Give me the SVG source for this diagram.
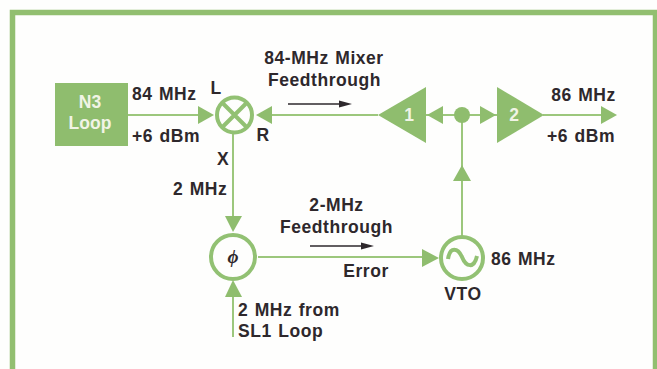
<svg xmlns="http://www.w3.org/2000/svg" width="657" height="369" viewBox="0 0 657 369">
<style>
.t{font-family:"Liberation Sans",Arial,sans-serif;font-weight:700;font-size:17.5px;fill:#2e282c;word-spacing:1px;letter-spacing:.55px}
.w{font-family:"Liberation Sans",Arial,sans-serif;font-weight:700;font-size:17.5px;fill:#f1f4e6}
.l{fill:none;stroke:#9cc77c;stroke-width:2}
.r{fill:none;stroke:#92c173;stroke-width:4}
.f{fill:#8fbd6e}
.k{fill:none;stroke:#2e282c;stroke-width:1.4}
.kf{fill:#2e282c}
</style>
<rect width="657" height="369" fill="#fefefd"/>
<path id="frame" d="M12.500 369V12.500H655.500V369" fill="none" stroke="#92bf70" stroke-width="5.500"/>
<g id="connectors">
<path class="l" d="M128 115H200"/><path class="f" d="M198 106L214 115L198 124Z"/>
<path class="l" d="M378 115H268"/><path class="f" d="M272 106L256 115L272 124Z"/>
<path class="l" d="M425 115H497"/><path class="f" d="M443 106L427 115L443 124Z"/><path class="f" d="M480 106L496 115L480 124Z"/>
<path class="l" d="M543 115H605"/><path class="f" d="M601 106L617 115L601 124Z"/>
<path class="l" d="M233 134V218"/><path class="f" d="M225 216H242L233 232Z"/>
<path class="l" d="M233 337V295"/><path class="f" d="M225 297H242L233 280Z"/>
<path class="l" d="M258 257H425"/><path class="f" d="M422 249L439 258L422 267Z"/>
<path class="l" d="M462 236V122"/><path class="f" d="M453 181H471L462 165Z"/>
<path class="k" d="M288 104H342"/><path class="kf" d="M339 100.500V107.500L352 104Z"/>
<path class="k" d="M310 246H364"/><path class="kf" d="M361 242.500V249.500L374 246Z"/>
</g>
<g id="n3"><rect class="f" x="55" y="83" width="73" height="63"/><text class="w" x="90" y="108" text-anchor="middle">N3</text><text class="w" x="90" y="129" text-anchor="middle">Loop</text></g>
<g id="mixer"><circle cx="234.500" cy="115" r="17.500" fill="#fefefd" class="r"/><path class="r" d="M222.500 103L246.500 127M246.500 103L222.500 127"/></g>
<g id="amp1"><path class="f" d="M426 87V143L378 115Z"/><text class="w" x="409" y="121" text-anchor="middle">1</text></g>
<g id="junction"><circle class="f" cx="462" cy="115" r="8"/></g>
<g id="amp2"><path class="f" d="M497 87V143L544 115Z"/><text class="w" x="514" y="121" text-anchor="middle">2</text></g>
<g id="phase"><circle cx="233" cy="257" r="22" fill="#fefefd" class="r"/><text x="233" y="263" text-anchor="middle" style="font-family:'Liberation Serif',serif;font-style:italic;font-weight:700;font-size:19px;fill:#2e282c">ϕ</text></g>
<g id="vto"><circle cx="462" cy="258" r="21" fill="#fefefd" class="r"/><path class="r" d="M448 259C450 246 458 248 462 257C466 267 474 269 477 256"/><text class="t" x="463" y="300" text-anchor="middle">VTO</text></g>
<g id="labels">
<text class="t" x="132" y="100">84 MHz</text>
<text class="t" x="132" y="141.500">+6 dBm</text>
<text class="t" x="216" y="94" text-anchor="middle">L</text>
<text class="t" x="263" y="141" text-anchor="middle">R</text>
<text class="t" x="223" y="165" text-anchor="middle">X</text>
<text class="t" x="173" y="195">2 MHz</text>
<text class="t" x="324" y="64" text-anchor="middle">84-MHz Mixer</text>
<text class="t" x="324.500" y="86" text-anchor="middle">Feedthrough</text>
<text class="t" x="583.500" y="100.500" text-anchor="middle">86 MHz</text>
<text class="t" x="581" y="141.500" text-anchor="middle">+6 dBm</text>
<text class="t" x="336.500" y="211" text-anchor="middle">2-MHz</text>
<text class="t" x="336.500" y="233" text-anchor="middle">Feedthrough</text>
<text class="t" x="366" y="277" text-anchor="middle">Error</text>
<text class="t" x="491" y="265">86 MHz</text>
<text class="t" x="238" y="316">2 MHz from</text>
<text class="t" x="238" y="337">SL1 Loop</text>
</g>
</svg>
